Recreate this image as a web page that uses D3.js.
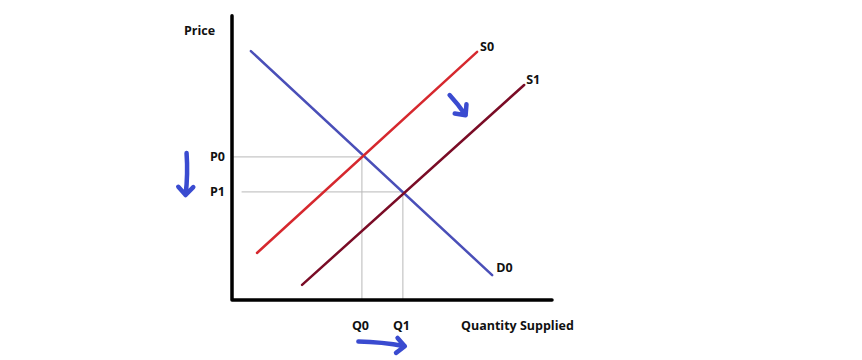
<!DOCTYPE html>
<html>
<head>
<meta charset="utf-8">
<script src="https://cdn.jsdelivr.net/npm/d3@7"></script>
<style>
  body { margin: 0; background: #fff; }
  text { font-family: "Open Sans", "Noto Sans", sans-serif; font-weight: bold; font-size: 12.5px; fill: #111; }
</style>
</head>
<body>
<div id="chart"></div>
<script>
// Curves, as [quantity, price] end points
var demand = [[0.59, 8.89], [8.13, 0.89]];
var supply0 = [[0.78, 1.68], [7.66, 8.86]];
var supply1 = [[2.19, 0.54], [9.13, 7.68]];

// Equilibrium points
var eq0 = [4.06, 5.11];
var eq1 = [5.34, 3.86];

// Labels
var curveLabels = ["D0", "S0", "S1"];
var priceLabels = ["P0", "P1"];
var qtyLabels = ["Q0", "Q1"];

// Hand drawn shift arrows (data coords)
var arrowDown = [[-1.42, 5.25], [-1.45, 3.75]];
var arrowRight = [[3.95, -1.48], [5.4, -1.65]];
var arrowDiag = [[6.8, 7.32], [7.3, 6.6]];

var width = 862,
    height = 360;

var svg = d3.select("#chart")
            .append("svg")
             .attr("width", width)
             .attr("height", height);

var x = d3.scaleLinear().domain([0, 10]).range([232, 552]);
var y = d3.scaleLinear().domain([0, 10]).range([300, 20]);

var line = d3.line()
             .x(function(d) { return x(d[0]); })
             .y(function(d) { return y(d[1]); });

// guide lines
var guides = svg.append("g").attr("stroke", "#b8b8b8").attr("stroke-width", 1);
guides.append("line").attr("x1", x(0)).attr("x2", x(eq0[0])).attr("y1", y(eq0[1])).attr("y2", y(eq0[1]));
guides.append("line").attr("x1", x(0.3)).attr("x2", x(eq1[0])).attr("y1", y(eq1[1])).attr("y2", y(eq1[1]));
guides.append("line").attr("x1", x(eq0[0])).attr("x2", x(eq0[0])).attr("y1", y(eq0[1])).attr("y2", y(0));
guides.append("line").attr("x1", x(eq1[0])).attr("x2", x(eq1[0])).attr("y1", y(eq1[1])).attr("y2", y(0));

// axes
svg.append("path")
   .attr("d", line([[0, 10.15], [0, 0], [10, 0]]))
   .attr("fill", "none")
   .attr("stroke", "#000")
   .attr("stroke-width", 3.5)
   .attr("stroke-linejoin", "round")
   .attr("stroke-linecap", "round");

// curves
var curves = [
  { pts: demand, color: "#4a4fb8", label: curveLabels[0], dx: 4, dy: -3, end: 1 },
  { pts: supply0, color: "#d6282e", label: curveLabels[1], dx: 3, dy: -1, end: 1 },
  { pts: supply1, color: "#7a0c26", label: curveLabels[2], dx: 2, dy: -1, end: 1 }
];

curves.forEach(function(c) {
  svg.append("path")
     .attr("d", line(c.pts))
     .attr("fill", "none")
     .attr("stroke", c.color)
     .attr("stroke-width", 2.5)
     .attr("stroke-linecap", "round");
  svg.append("text")
     .attr("x", x(c.pts[c.end][0]) + c.dx)
     .attr("y", y(c.pts[c.end][1]) + c.dy)
     .text(c.label);
});

// axis labels
svg.append("text").attr("x", 184).attr("y", 35).text("Price");
svg.append("text").attr("x", 461).attr("y", 330).text("Quantity Supplied");

svg.selectAll(".plab")
   .data([eq0, eq1])
   .enter()
   .append("text")
    .attr("x", 210)
    .attr("y", function(d) { return y(d[1]) + 4; })
    .text(function(d, i) { return priceLabels[i]; });

svg.selectAll(".qlab")
   .data([eq0, eq1])
   .enter()
   .append("text")
    .attr("x", function(d) { return x(d[0]) - 10; })
    .attr("y", 330)
    .text(function(d, i) { return qtyLabels[i]; });

// shift arrows
var arrowBlue = "#3a4bd0";
function arrow(pts, curve) {
  var a = pts[0], b = pts[1];
  var x1 = x(a[0]), y1 = y(a[1]), x2 = x(b[0]), y2 = y(b[1]);
  var ang = Math.atan2(y2 - y1, x2 - x1);
  var hl = 11;
  var l = [x2 - hl * Math.cos(ang - 0.75), y2 - hl * Math.sin(ang - 0.75)];
  var r = [x2 - hl * Math.cos(ang + 0.75), y2 - hl * Math.sin(ang + 0.75)];
  var mx = (x1 + x2) / 2 + curve * Math.sin(ang),
      my = (y1 + y2) / 2 - curve * Math.cos(ang);
  var d = "M" + x1 + "," + y1 + " Q" + mx + "," + my + " " + x2 + "," + y2 +
          " M" + l[0] + "," + l[1] + " L" + x2 + "," + y2 + " L" + r[0] + "," + r[1];
  svg.append("path")
     .attr("d", d)
     .attr("fill", "none")
     .attr("stroke", arrowBlue)
     .attr("stroke-width", 4.5)
     .attr("stroke-linecap", "round")
     .attr("stroke-linejoin", "round");
}
arrow(arrowDown, 2);
arrow(arrowRight, 2);
arrow(arrowDiag, 1);
</script>
</body>
</html>
